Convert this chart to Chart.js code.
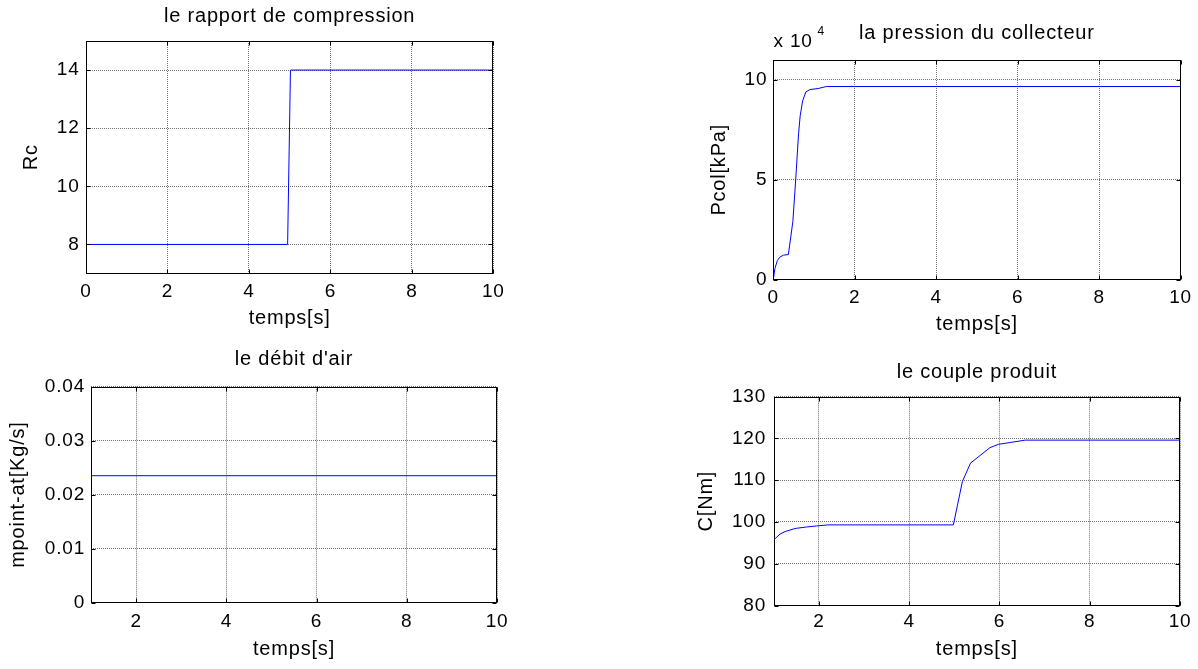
<!DOCTYPE html>
<html><head><meta charset="utf-8">
<script src="https://cdn.jsdelivr.net/npm/chart.js@4.4.1/dist/chart.umd.min.js"></script>
<style>
html,body{margin:0;padding:0;background:#fff;width:1198px;height:669px;overflow:hidden;position:relative}
canvas{position:absolute}
</style></head><body>
<canvas id="c1"></canvas><canvas id="c2"></canvas><canvas id="c3"></canvas><canvas id="c4"></canvas>
<script>
// ---- data ----
const rcTime = [0, 4.95, 5.02, 10];
const rcValues = [8, 8, 14, 14];
const rcTicksX = [0, 2, 4, 6, 8, 10];
const rcTicksY = [8, 10, 12, 14];

const pcolTime = [0, 0.04, 0.1, 0.16, 0.25, 0.37, 0.48, 0.55, 0.62, 0.66, 0.72, 0.8, 0.9, 1.1, 1.3, 10];
const pcolValues = [0, 5500, 9500, 11200, 12200, 12500, 29000, 50000, 73000, 82000, 89500, 94000, 95200, 95700, 96700, 96700];
const pcolTicksX = [0, 2, 4, 6, 8, 10];
const pcolTicksY = [0, 50000, 100000];

const debitTime = [1, 10];
const debitValues = [0.0235, 0.0235];
const debitTicksX = [2, 4, 6, 8, 10];
const debitTicksY = [0, 0.01, 0.02, 0.03, 0.04];

const coupleTime = [1, 1.14, 1.25, 1.43, 1.51, 1.73, 1.95, 2.2, 4.98, 5.18, 5.36, 5.79, 5.98, 6.22, 6.57, 10];
const coupleValues = [95.7, 97.1, 97.7, 98.3, 98.5, 98.8, 99.05, 99.3, 99.3, 109.7, 114.1, 117.8, 118.6, 119.0, 119.6, 119.6];
const coupleTicksX = [2, 4, 6, 8, 10];
const coupleTicksY = [80, 90, 100, 110, 120, 130];

// ---- styling ----
const FONT = "'Liberation Sans', Arial, sans-serif";
Chart.defaults.color = '#000';
Chart.defaults.font.family = FONT;
const TICK_SIZE = 19, TITLE_SIZE = 20;

const lsPlugin = {
  id: 'ls',
  beforeUpdate(chart) { chart.ctx.letterSpacing = '0.8px'; },
  beforeDraw(chart) { chart.ctx.letterSpacing = '0.8px'; }
};
const framePlugin = {
  id: 'frame',
  afterDatasetsDraw(chart) {
    const ctx = chart.ctx, a = chart.chartArea, xs = chart.scales.x, ys = chart.scales.y;
    const L = Math.round(a.left) + 0.5, R = Math.round(a.right) - 0.5, T = Math.round(a.top) + 0.5, B = Math.round(a.bottom) - 0.5;
    ctx.save();
    ctx.strokeStyle = '#000'; ctx.lineWidth = 1; ctx.setLineDash([]);
    ctx.strokeRect(L, T, R - L, B - T);
    const tl = 4;
    ctx.beginPath();
    xs.ticks.forEach(t => {
      const p = Math.round(xs.getPixelForValue(t.value)) + 0.5;
      ctx.moveTo(p, B); ctx.lineTo(p, B - tl);
      ctx.moveTo(p, T); ctx.lineTo(p, T + tl);
    });
    ys.ticks.forEach(t => {
      const p = Math.round(ys.getPixelForValue(t.value)) + 0.5;
      ctx.moveTo(L, p); ctx.lineTo(L + tl, p);
      ctx.moveTo(R, p); ctx.lineTo(R - tl, p);
    });
    ctx.stroke();
    ctx.restore();
  }
};

function makeChart(id, s) {
  const cl = Math.floor(s.yTitleX - 16), ct = Math.floor(s.titleY - 16);
  const cr = Math.ceil(s.area.r + 24), cb = Math.ceil(s.xTitleY + 18);
  const cv = document.getElementById(id);
  cv.width = cr - cl; cv.height = cb - ct;
  cv.style.left = cl + 'px'; cv.style.top = ct + 'px';
  const titleLH = TITLE_SIZE * 1.2, tickLH = TICK_SIZE * 1.2;
  const plugins = [lsPlugin, framePlugin];
  if (s.extra) plugins.push(s.extra(cl, ct));
  return new Chart(cv, {
    type: 'line',
    data: {
      datasets: [{
        data: s.time.map((t, i) => ({ x: t, y: s.values[i] })),
        borderColor: '#0000ff', borderWidth: 1, pointRadius: 0, fill: false, tension: 0
      }]
    },
    options: {
      responsive: false, animation: false, devicePixelRatio: 1,
      layout: { padding: { left: 0, top: 0, right: cr - s.area.r, bottom: cb - (s.xTitleY + titleLH / 2) } },
      plugins: {
        legend: { display: false }, tooltip: { enabled: false },
        title: {
          display: true, text: s.title, color: '#000', fullSize: false,
          font: { size: TITLE_SIZE, weight: 'normal', lineHeight: 1.2 },
          padding: { top: s.titleY - ct - titleLH / 2, bottom: s.area.t - s.titleY - titleLH / 2 }
        }
      },
      scales: {
        x: {
          type: 'linear', min: s.xMin, max: s.xMax,
          afterBuildTicks: sc => { sc.ticks = s.ticksX.map(v => ({ value: v })); },
          afterFit: sc => { sc.height = s.xTitleY + titleLH / 2 - s.area.b; },
          ticks: { font: { size: TICK_SIZE, lineHeight: 1.2 }, padding: s.xTickY - s.area.b - tickLH / 2, maxRotation: 0, autoSkip: false, callback: v => String(v) },
          grid: { color: 'rgba(0,0,0,0.55)', drawTicks: false, lineWidth: 1 },
          border: { display: false, dash: [1, 1] },
          title: { display: true, text: 'temps[s]', font: { size: TITLE_SIZE, lineHeight: 1.2 }, padding: { top: 0, bottom: 0 } }
        },
        y: {
          type: 'linear', min: s.yMin, max: s.yMax,
          afterBuildTicks: sc => { sc.ticks = s.ticksY.map(v => ({ value: v })); },
          afterFit: sc => { sc.width = s.area.l - cl; },
          ticks: { font: { size: TICK_SIZE, lineHeight: 1.2 }, padding: s.area.l - s.yTickRight, autoSkip: false, callback: s.yFmt || (v => String(v)) },
          grid: { color: 'rgba(0,0,0,0.55)', drawTicks: false, lineWidth: 1 },
          border: { display: false, dash: [1, 1] },
          title: { display: true, text: s.yTitle, font: { size: TITLE_SIZE, lineHeight: 1.2 }, padding: { top: s.yTitleX - cl - titleLH / 2, bottom: 0 } }
        }
      }
    },
    plugins
  });
}

makeChart('c1', {
  title: 'le rapport de compression', yTitle: 'Rc',
  time: rcTime, values: rcValues, ticksX: rcTicksX, ticksY: rcTicksY,
  xMin: 0, xMax: 10, yMin: 7, yMax: 15,
  area: { l: 86, t: 41, r: 493.3, b: 273.5 },
  titleY: 16.3, xTickY: 291.7, xTitleY: 318, yTitleX: 31.3, yTickRight: 79.5
});

makeChart('c2', {
  title: 'la pression du collecteur', yTitle: 'Pcol[kPa]',
  time: pcolTime, values: pcolValues, ticksX: pcolTicksX, ticksY: pcolTicksY,
  xMin: 0, xMax: 10, yMin: 0, yMax: 110000, yFmt: v => String(v / 10000),
  area: { l: 773.3, t: 60, r: 1180.5, b: 279.5 },
  titleY: 33.7, xTickY: 297.5, xTitleY: 324, yTitleX: 719.7, yTickRight: 767.3,
  extra: (cl, ct) => ({
    id: 'exp',
    afterDraw(chart) {
      const ctx = chart.ctx;
      ctx.save();
      ctx.fillStyle = '#000'; ctx.textAlign = 'left'; ctx.textBaseline = 'alphabetic';
      ctx.font = '19px ' + FONT;
      ctx.fillText('x 10', 773.5 - cl, 46.7 - ct);
      ctx.font = '12px ' + FONT;
      ctx.fillText('4', 817.5 - cl, 35 - ct);
      ctx.restore();
    }
  })
});

makeChart('c3', {
  title: "le débit d'air", yTitle: 'mpoint-at[Kg/s]',
  time: debitTime, values: debitValues, ticksX: debitTicksX, ticksY: debitTicksY,
  xMin: 1, xMax: 10, yMin: 0, yMax: 0.04,
  area: { l: 91, t: 386.7, r: 497, b: 602.5 },
  titleY: 359, xTickY: 621.7, xTitleY: 649.7, yTitleX: 18, yTickRight: 85
});

makeChart('c4', {
  title: 'le couple produit', yTitle: 'C[Nm]',
  time: coupleTime, values: coupleValues, ticksX: coupleTicksX, ticksY: coupleTicksY,
  xMin: 1, xMax: 10, yMin: 80, yMax: 130,
  area: { l: 773.7, t: 396.7, r: 1180, b: 605.5 },
  titleY: 372, xTickY: 621.7, xTitleY: 649.7, yTitleX: 706.3, yTickRight: 766
});
</script>
</body></html>
